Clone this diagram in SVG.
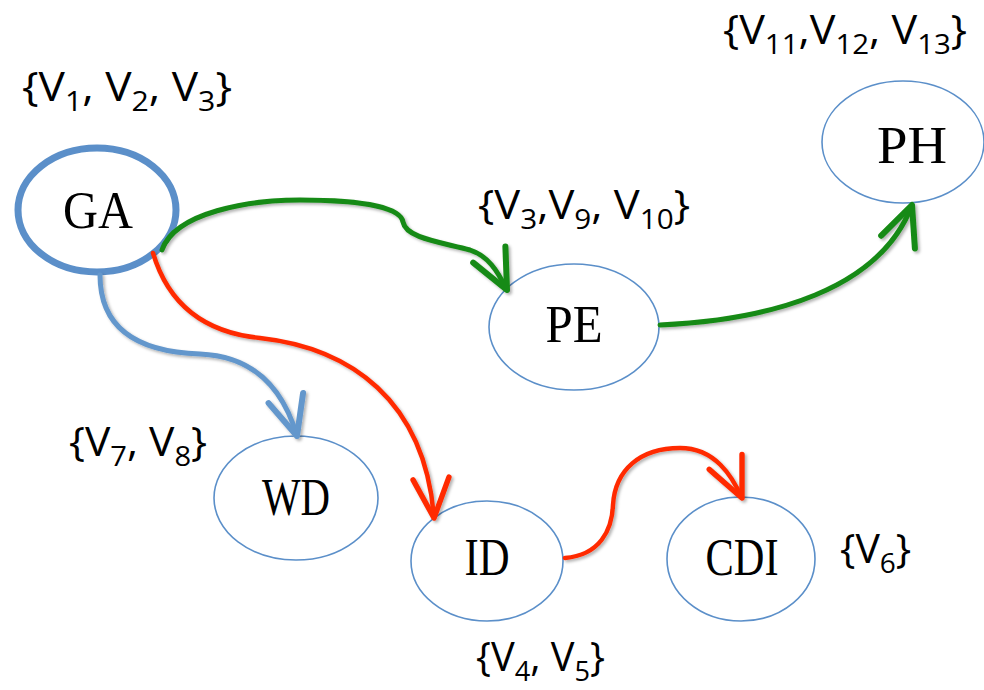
<svg xmlns="http://www.w3.org/2000/svg" width="984" height="690" viewBox="0 0 984 690">
<style>
  .node { fill: #ffffff; stroke: #5b8fc9; stroke-width: 1.6; }
  .thick { stroke-width: 7; }
  .nlabel { font-family: "Liberation Serif", "DejaVu Serif", serif; font-size: 52px; fill: #000; text-anchor: middle; }
  .set { font-family: "Open Sans", "Liberation Sans", sans-serif; font-size: 41px; fill: #000; }
  .sub { font-size: 28px; }
  .conn { fill: none; stroke-linecap: round; stroke-linejoin: round; filter: url(#sh); }
  .green { stroke: #168a14; stroke-width: 5; }
  .blue { stroke: #6497cc; stroke-width: 5; }
  .red { stroke: #ff2a00; stroke-width: 4.5; }
</style>
<defs>
  <filter id="sh" x="-10%" y="-10%" width="130%" height="130%">
    <feDropShadow dx="2" dy="2" stdDeviation="1.5" flood-color="#000" flood-opacity="0.3"/>
  </filter>
  <marker id="ag" markerUnits="userSpaceOnUse" markerWidth="60" markerHeight="60" viewBox="-40 -25 50 50" refX="0" refY="0" orient="auto" overflow="visible">
    <path d="M-33,-15 L0,0 L-33,15" fill="none" stroke="#168a14" stroke-width="5" stroke-linecap="round" stroke-linejoin="round"/>
  </marker>
  <marker id="ab" markerUnits="userSpaceOnUse" markerWidth="60" markerHeight="60" viewBox="-40 -25 50 50" refX="0" refY="0" orient="auto" overflow="visible">
    <path d="M-33,-15 L0,0 L-33,15" fill="none" stroke="#6497cc" stroke-width="5" stroke-linecap="round" stroke-linejoin="round"/>
  </marker>
  <marker id="ar" markerUnits="userSpaceOnUse" markerWidth="60" markerHeight="60" viewBox="-40 -25 50 50" refX="0" refY="0" orient="auto" overflow="visible">
    <path d="M-33,-15 L0,0 L-33,15" fill="none" stroke="#ff2a00" stroke-width="4.5" stroke-linecap="round" stroke-linejoin="round"/>
  </marker>
</defs>
<rect width="984" height="690" fill="#ffffff"/>

<g id="node-GA">
  <ellipse class="node thick" cx="97" cy="210" rx="79" ry="62"/>
  <text class="nlabel" x="98" y="228" textLength="70" lengthAdjust="spacingAndGlyphs">GA</text>
</g>
<g id="node-PE">
  <ellipse class="node" cx="574" cy="327" rx="85" ry="63"/>
  <text class="nlabel" x="574" y="342" textLength="57" lengthAdjust="spacingAndGlyphs">PE</text>
</g>
<g id="node-PH">
  <ellipse class="node" cx="903" cy="142" rx="81" ry="61"/>
  <text class="nlabel" x="912" y="163" textLength="70" lengthAdjust="spacingAndGlyphs">PH</text>
</g>
<g id="node-WD">
  <ellipse class="node" cx="296" cy="498" rx="82" ry="62"/>
  <text class="nlabel" x="296" y="515" textLength="68" lengthAdjust="spacingAndGlyphs">WD</text>
</g>
<g id="node-ID">
  <ellipse class="node" cx="487" cy="561" rx="76" ry="60"/>
  <text class="nlabel" x="487" y="575" textLength="45" lengthAdjust="spacingAndGlyphs">ID</text>
</g>
<g id="node-CDI">
  <ellipse class="node" cx="741" cy="559" rx="74" ry="62"/>
  <text class="nlabel" x="742" y="575" textLength="73" lengthAdjust="spacingAndGlyphs">CDI</text>
</g>

<g id="connectors">
  <path class="conn green" marker-end="url(#ag)" d="M162,250 C175,212 250,200 300,200 C350,200 400,205 403,222 C406,238 440,242 470,250 C488,256 497,270 507,290"/>
  <path class="conn green" marker-end="url(#ag)" d="M660,325 C770,320 880,290 912,205"/>
  <path class="conn blue" marker-end="url(#ab)" d="M100,275 C100,330 140,352 200,354 C250,356 282,385 297,436"/>
  <path class="conn red" marker-end="url(#ar)" d="M153,253 C170,310 210,333 260,338 C350,348 425,400 434,518"/>
  <path class="conn red" marker-end="url(#ar)" d="M565,558 C600,555 612,530 613,505 C615,470 640,448 680,448 C715,448 732,476 742,498"/>
</g>

<g id="labels">
  <text class="set" x="22" y="101" textLength="210" lengthAdjust="spacingAndGlyphs">{V<tspan class="sub" dy="10">1</tspan><tspan dy="-10">, V</tspan><tspan class="sub" dy="10">2</tspan><tspan dy="-10">, V</tspan><tspan class="sub" dy="10">3</tspan><tspan dy="-10">}</tspan></text>
  <text class="set" x="723" y="44" textLength="244" lengthAdjust="spacingAndGlyphs">{V<tspan class="sub" dy="10">11</tspan><tspan dy="-10">,V</tspan><tspan class="sub" dy="10">12</tspan><tspan dy="-10">, V</tspan><tspan class="sub" dy="10">13</tspan><tspan dy="-10">}</tspan></text>
  <text class="set" x="478" y="219" textLength="212" lengthAdjust="spacingAndGlyphs">{V<tspan class="sub" dy="10">3</tspan><tspan dy="-10">,V</tspan><tspan class="sub" dy="10">9</tspan><tspan dy="-10">, V</tspan><tspan class="sub" dy="10">10</tspan><tspan dy="-10">}</tspan></text>
  <text class="set" x="69" y="456" textLength="138" lengthAdjust="spacingAndGlyphs">{V<tspan class="sub" dy="10">7</tspan><tspan dy="-10">, V</tspan><tspan class="sub" dy="10">8</tspan><tspan dy="-10">}</tspan></text>
  <text class="set" x="476" y="671" textLength="129" lengthAdjust="spacingAndGlyphs">{V<tspan class="sub" dy="10">4</tspan><tspan dy="-10">, V</tspan><tspan class="sub" dy="10">5</tspan><tspan dy="-10">}</tspan></text>
  <text class="set" x="840" y="563">{V<tspan class="sub" dy="10">6</tspan><tspan dy="-10">}</tspan></text>
</g>
</svg>
